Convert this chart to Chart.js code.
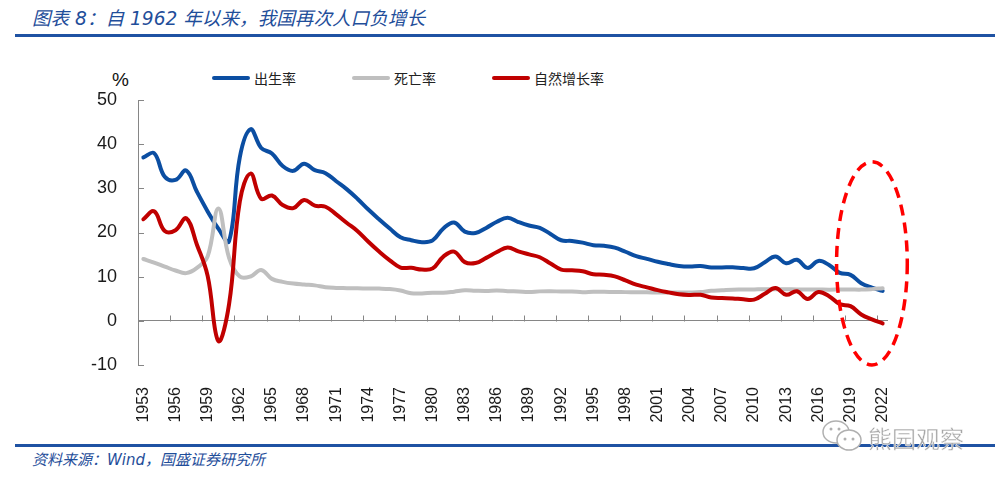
<!DOCTYPE html>
<html>
<head>
<meta charset="utf-8">
<script src="https://cdn.jsdelivr.net/npm/chart.js@4"></script>
<style>
    body { margin: 0; background: #fff; width: 1000px; height: 483px; position: relative; overflow: hidden; font-family: "Liberation Sans", "Noto Sans CJK SC", sans-serif; }
    .title { position: absolute; left: 32px; top: 3px; font-size: 18.6px; font-style: italic; color: #1f4e9a; font-family: "DejaVu Sans", "Noto Sans CJK SC", sans-serif; white-space: nowrap; }
    .rule { position: absolute; left: 15px; width: 980px; height: 3px; background: #1f52a3; }
    .legend { position: absolute; left: 212px; top: 68px; display: flex; gap: 56px; font-family: "Noto Sans CJK SC", sans-serif; font-size: 14px; color: #222; }
    .legend .item { display: flex; align-items: center; }
    .legend .swatch { width: 38px; height: 4px; border-radius: 2px; margin-right: 4px; }
    .unit { position: absolute; left: 112px; top: 69px; font-size: 19px; color: #111; }
    .wrap { position: absolute; left: 0; top: 40px; width: 1000px; height: 395px; }
    .source { position: absolute; left: 32px; top: 448px; font-size: 15px; font-style: italic; color: #1f4e9a; font-family: "DejaVu Sans", "Noto Sans CJK SC", sans-serif; }
    .mark { position: absolute; left: 820px; top: 418px; display: flex; align-items: center; color: #a6a6a6; font-family: "Noto Sans CJK SC", sans-serif; font-size: 24px; -webkit-text-stroke: 0.4px #fff; }
</style>
</head>
<body>
<div class="title">图表 8：自 1962 年以来，我国再次人口负增长</div>
<div class="rule" style="top: 34px;"></div>
<div class="unit">%</div>
<div class="legend">
    <div class="item"><span class="swatch" style="background:#0b4ea2"></span>出生率</div>
    <div class="item"><span class="swatch" style="background:#bfbfbf"></span>死亡率</div>
    <div class="item"><span class="swatch" style="background:#c00000"></span>自然增长率</div>
</div>
<div class="wrap"><canvas id="popChart"></canvas></div>
<div class="rule" style="top: 444px;"></div>
<div class="source">资料来源：Wind，国盛证券研究所</div>
<div class="mark">
    <svg width="46" height="38" viewBox="0 0 46 38">
        <ellipse cx="16" cy="14" rx="13" ry="11" fill="#fff" stroke="#b0b0b0" stroke-width="1.5"/>
        <ellipse cx="29" cy="22" rx="12" ry="10" fill="#fff" stroke="#b0b0b0" stroke-width="1.5"/>
        <circle cx="25" cy="21" r="1.5" fill="#b0b0b0"/>
        <circle cx="33" cy="21" r="1.5" fill="#b0b0b0"/>
        <circle cx="11" cy="11" r="1.5" fill="#b0b0b0"/>
        <circle cx="19" cy="11" r="1.5" fill="#b0b0b0"/>
    </svg>
    <span style="margin-left: 2px;">熊园观察</span>
</div>

<script>
const years = [1953, 1954, 1955, 1956, 1957, 1958, 1959, 1960, 1961, 1962,
    1963, 1964, 1965, 1966, 1967, 1968, 1969, 1970, 1971, 1972,
    1973, 1974, 1975, 1976, 1977, 1978, 1979, 1980, 1981, 1982,
    1983, 1984, 1985, 1986, 1987, 1988, 1989, 1990, 1991, 1992,
    1993, 1994, 1995, 1996, 1997, 1998, 1999, 2000, 2001, 2002,
    2003, 2004, 2005, 2006, 2007, 2008, 2009, 2010, 2011, 2012,
    2013, 2014, 2015, 2016, 2017, 2018, 2019, 2020, 2021, 2022];

// 出生率 (‰)
const birthRate = [37.00, 37.97, 32.60, 31.90, 34.03, 29.22, 24.78, 20.86, 18.02, 37.01,
    43.37, 39.14, 37.88, 35.05, 33.96, 35.59, 34.11, 33.43, 31.60, 29.77,
    27.60, 25.20, 23.01, 20.90, 18.93, 18.25, 17.82, 18.21, 20.91, 22.28,
    20.19, 19.90, 21.04, 22.43, 23.33, 22.37, 21.58, 21.06, 19.68, 18.24,
    18.09, 17.70, 17.12, 16.98, 16.57, 15.64, 14.64, 14.03, 13.38, 12.86,
    12.41, 12.29, 12.40, 12.09, 12.10, 12.14, 11.95, 11.90, 13.27, 14.57,
    13.03, 13.83, 11.99, 13.57, 12.64, 10.86, 10.41, 8.52, 7.52, 6.77];

// 死亡率
const deathRate = [14.00, 13.18, 12.28, 11.40, 10.80, 11.98, 14.59, 25.43, 14.24, 10.02,
    10.04, 11.50, 9.50, 8.83, 8.43, 8.21, 8.03, 7.60, 7.45, 7.40,
    7.35, 7.32, 7.30, 7.20, 6.87, 6.25, 6.21, 6.34, 6.36, 6.60,
    6.90, 6.82, 6.78, 6.86, 6.72, 6.64, 6.54, 6.67, 6.70, 6.64,
    6.64, 6.49, 6.57, 6.56, 6.51, 6.50, 6.46, 6.45, 6.43, 6.41,
    6.40, 6.42, 6.51, 6.81, 6.93, 7.06, 7.08, 7.11, 7.14, 7.13,
    7.13, 7.12, 7.11, 7.09, 7.06, 7.08, 7.09, 7.07, 7.18, 7.37];

// 自然增长率
const growthRate = [23.00, 24.79, 20.32, 20.50, 23.23, 17.24, 10.19, -4.57, 3.78, 26.99,
    33.33, 27.64, 28.38, 26.22, 25.53, 27.38, 26.08, 25.83, 24.10, 22.16,
    20.30, 17.90, 15.69, 13.70, 12.06, 12.00, 11.61, 11.87, 14.55, 15.68,
    13.29, 13.08, 14.26, 15.57, 16.61, 15.73, 15.04, 14.39, 12.98, 11.60,
    11.45, 11.21, 10.55, 10.42, 10.06, 9.14, 8.18, 7.58, 6.95, 6.45,
    6.01, 5.87, 5.89, 5.28, 5.17, 5.08, 4.87, 4.79, 6.13, 7.43,
    5.90, 6.71, 4.93, 6.53, 5.58, 3.78, 3.32, 1.45, 0.34, -0.60];

const yTicks = [-10, 0, 10, 20, 30, 40, 50];
const labelEvery = 3;

// red dashed circle round the latest years (in years / %)
const focusYears = [2017.7, 2024.3];
const focusRange = [-10, 36];

const axisGray = "#868686";

// small inward tick marks like the original Excel chart
const tickMarks = {
    id: "tickMarks",
    beforeDatasetsDraw(chart) {
        const { ctx, scales: { x, y } } = chart;
        ctx.save();
        ctx.strokeStyle = axisGray;
        ctx.lineWidth = 1;
        ctx.beginPath();
        y.ticks.forEach(t => {
            const py = Math.round(y.getPixelForValue(t.value)) + 0.5;
            ctx.moveTo(y.right, py);
            ctx.lineTo(y.right + 6, py);
        });
        const zeroY = Math.round(y.getPixelForValue(0)) + 0.5;
        for (let i = 0; i <= years.length; i += labelEvery) {
            const px = Math.round(x.getPixelForValue(i - 0.5)) + 0.5;
            ctx.moveTo(px, zeroY);
            ctx.lineTo(px, zeroY - 6);
        }
        ctx.stroke();
        ctx.restore();
    }
};

const focusRing = {
    id: "focusRing",
    afterDatasetsDraw(chart) {
        const { ctx, scales: { x, y } } = chart;
        const x0 = x.getPixelForValue(focusYears[0] - years[0]);
        const x1 = x.getPixelForValue(focusYears[1] - years[0]);
        const y0 = y.getPixelForValue(focusRange[1]);
        const y1 = y.getPixelForValue(focusRange[0]);
        ctx.save();
        ctx.strokeStyle = "#ff0000";
        ctx.lineWidth = 3.5;
        ctx.setLineDash([11, 7]);
        ctx.beginPath();
        ctx.ellipse((x0 + x1) / 2, (y0 + y1) / 2, (x1 - x0) / 2, (y1 - y0) / 2, 0, 0, Math.PI * 2);
        ctx.stroke();
        ctx.restore();
    }
};

const lineStyle = {
    borderWidth: 4,
    pointRadius: 0,
    tension: 0.4,
    borderCapStyle: "round",
    borderJoinStyle: "round",
    fill: false
};

new Chart(document.getElementById("popChart"), {
    type: "line",
    data: {
        labels: years,
        datasets: [
            { label: "出生率", data: birthRate, borderColor: "#0b4ea2", order: 3, ...lineStyle },
            { label: "死亡率", data: deathRate, borderColor: "#bfbfbf", order: 2, ...lineStyle },
            { label: "自然增长率", data: growthRate, borderColor: "#c00000", order: 1, ...lineStyle }
        ]
    },
    options: {
        responsive: true,
        maintainAspectRatio: false,
        animation: false,
        layout: { padding: { top: 60, right: 112, left: 0, bottom: 0 } },
        plugins: {
            legend: { display: false },
            tooltip: { enabled: false }
        },
        scales: {
            x: {
                offset: true,
                grid: { display: false },
                border: { display: false },
                ticks: {
                    autoSkip: false,
                    minRotation: 90,
                    maxRotation: 90,
                    padding: 14,
                    color: "#1a1a1a",
                    font: { size: 16, family: "'Liberation Sans', Arial, sans-serif" },
                    callback: (v, i) => (i % labelEvery === 0 ? String(years[i]) : "")
                },
                afterFit: (scale) => { scale.height = 70; }
            },
            y: {
                min: yTicks[0],
                max: yTicks[yTicks.length - 1],
                afterBuildTicks: (scale) => { scale.ticks = yTicks.map(v => ({ value: v })); },
                grid: {
                    drawTicks: false,
                    lineWidth: 1,
                    color: (c) => (c.tick && c.tick.value === 0 ? axisGray : "rgba(0,0,0,0)")
                },
                border: { color: axisGray, width: 1 },
                ticks: {
                    padding: 21,
                    color: "#1a1a1a",
                    font: { size: 18, family: "'Liberation Sans', Arial, sans-serif" }
                },
                afterFit: (scale) => { scale.width = 138; }
            }
        }
    },
    plugins: [tickMarks, focusRing]
});
</script>
</body>
</html>
